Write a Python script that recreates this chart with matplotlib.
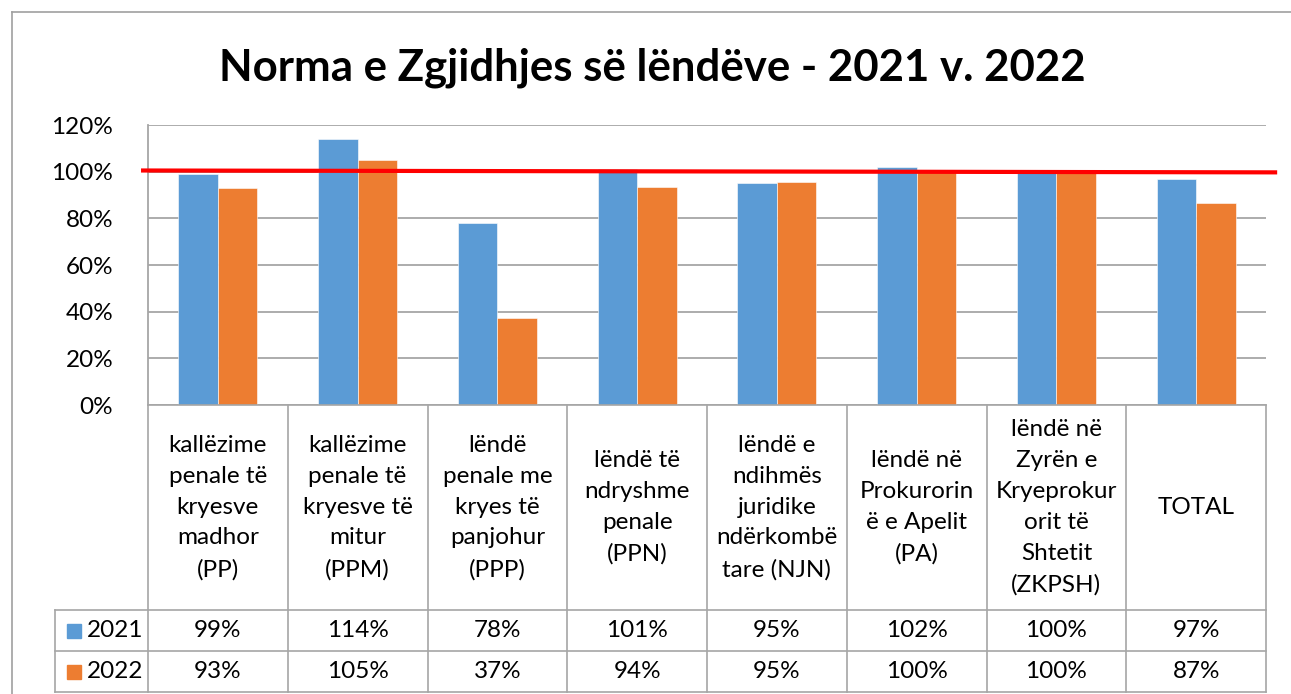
import matplotlib
matplotlib.use("Agg")
import matplotlib.pyplot as plt
from matplotlib.patches import Rectangle
from matplotlib.lines import Line2D

categories = [
    "kallëzime\npenale të\nkryesve\nmadhor\n(PP)",
    "kallëzime\npenale të\nkryesve të\nmitur\n(PPM)",
    "lëndë\npenale me\nkryes të\npanjohur\n(PPP)",
    "lëndë të\nndryshme\npenale\n(PPN)",
    "lëndë e\nndihmës\njuridike\nndërkombë\ntare (NJN)",
    "lëndë në\nProkurorin\në e Apelit\n(PA)",
    "lëndë në\nZyrën e\nKryeprokur\norit të\nShtetit\n(ZKPSH)",
    "TOTAL",
]
series_names = ["2021", "2022"]
values_2021 = [0.99, 1.14, 0.78, 1.01, 0.952, 1.02, 1.00, 0.97]
values_2022 = [0.93, 1.05, 0.373, 0.935, 0.956, 1.00, 1.00, 0.867]
labels_2021 = ["99%", "114%", "78%", "101%", "95%", "102%", "100%", "97%"]
labels_2022 = ["93%", "105%", "37%", "94%", "95%", "100%", "100%", "87%"]
yticks = [0, 0.2, 0.4, 0.6, 0.8, 1.0, 1.2]
ytick_labels = ["0%", "20%", "40%", "60%", "80%", "100%", "120%"]
target = 1.0
title = "Norma e Zgjidhjes së lëndëve - 2021 v. 2022"

colors = ["#5B9BD5", "#ED7D31"]
grid_color = "#A6A6A6"
FONT = "Lato"
FS = 17.5

W, H = 1291, 694
fig = plt.figure(figsize=(W / 100, H / 100), dpi=100)

def fx(px):
    return px / W

def fy(py):
    return 1 - py / H

# outer chart border
fig.add_artist(Line2D([fx(12), fx(12)], [fy(12), fy(694)], color="#A0A0A0", lw=1.2))
fig.add_artist(Line2D([fx(12), fx(1291)], [fy(12), fy(12)], color="#A0A0A0", lw=1.2))

left, right, top, bottom = 148, 1266, 125, 405
ax = fig.add_axes([fx(left), fy(bottom), fx(right) - fx(left), fy(top) - fy(bottom)])
n = len(categories)
x = list(range(n))
bw = 0.283
ax.bar([i - bw / 2 for i in x], values_2021, width=bw, color=colors[0], edgecolor="white", linewidth=0.4, zorder=3)
ax.bar([i + bw / 2 for i in x], values_2022, width=bw, color=colors[1], edgecolor="white", linewidth=0.4, zorder=3)
ax.set_xlim(-0.5, n - 0.5)
ax.set_ylim(0, 1.2)
ax.set_yticks(yticks)
ax.set_yticklabels(ytick_labels, fontsize=FS, family=FONT)
ax.tick_params(axis="y", length=0, pad=25)
ax.set_xticks([])
ax.grid(axis="y", color=grid_color, lw=1.3, zorder=0)
for s in ["top", "right", "bottom"]:
    ax.spines[s].set_visible(False)
ax.spines["left"].set_color(grid_color)
ax.spines["left"].set_linewidth(1.3)

# red 100% reference line
ax.plot([-0.535, n - 0.5 + 0.065], [target + 0.005, target - 0.003], color="#FF0000", lw=3,
        clip_on=False, zorder=5)

# title
fig.text(fx(652), fy(68), title, ha="center", va="center", fontsize=31.5, fontweight="bold", family=FONT)

# data table
tcolor = "#A6A6A6"
row_cat = (405, 610)
row1 = (610, 651)
row2 = (651, 692)
colw = (right - left) / n
for yy, x0 in [(405, left), (610, 55), (651, 55), (692, 55)]:
    fig.add_artist(Line2D([fx(x0), fx(right)], [fy(yy), fy(yy)], color=tcolor, lw=1.2))
for i in range(n + 1):
    xx = left + i * colw
    fig.add_artist(Line2D([fx(xx), fx(xx)], [fy(405), fy(692)], color=tcolor, lw=1.2))
fig.add_artist(Line2D([fx(55), fx(55)], [fy(610), fy(692)], color=tcolor, lw=1.2))

for i, cat in enumerate(categories):
    cx = left + (i + 0.5) * colw
    fig.text(fx(cx), fy((row_cat[0] + row_cat[1]) / 2), cat, ha="center", va="center",
             fontsize=FS, family=FONT, linespacing=1.58)
    fig.text(fx(cx), fy((row1[0] + row1[1]) / 2), labels_2021[i], ha="center", va="center",
             fontsize=FS, family=FONT)
    fig.text(fx(cx), fy((row2[0] + row2[1]) / 2), labels_2022[i], ha="center", va="center",
             fontsize=FS, family=FONT)

for (r0, r1), name, c in [(row1, series_names[0], colors[0]), (row2, series_names[1], colors[1])]:
    yc = (r0 + r1) / 2
    fig.add_artist(Rectangle((fx(67), fy(yc + 7)), fx(14), fy(0) - fy(14), color=c, transform=fig.transFigure))
    fig.text(fx(87), fy(yc), name, ha="left", va="center", fontsize=FS, family=FONT)

fig.savefig("out.png", dpi=100)
